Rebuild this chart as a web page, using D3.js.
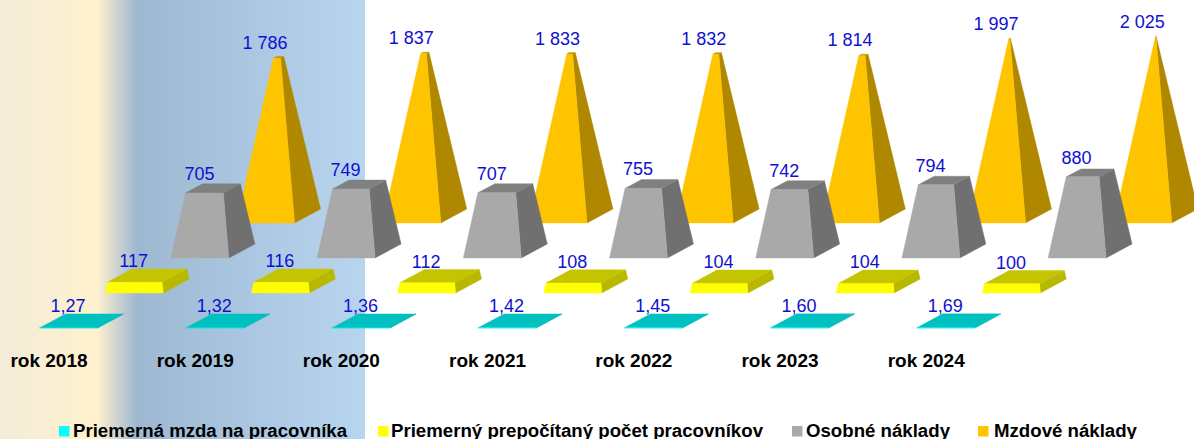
<!DOCTYPE html>
<html><head><meta charset="utf-8">
<script src="https://cdn.jsdelivr.net/npm/d3@7"></script>
<style>html,body{margin:0;padding:0;background:#fff;overflow:hidden}svg{display:block}text{font-family:"Liberation Sans",Arial,sans-serif}</style>
</head><body><div id="chart"></div>
<script>
const categories = ["rok 2018","rok 2019","rok 2020","rok 2021","rok 2022","rok 2023","rok 2024"];
const mzda   = [1.27,1.32,1.36,1.42,1.45,1.60,1.69];
const pocet  = [117,116,112,108,104,104,100];
const osobne = [705,749,707,755,742,794,880];
const mzdove = [1786,1837,1833,1832,1814,1997,2025];
const seriesNames = ["Priemerná mzda na pracovníka","Priemerný prepočítaný počet pracovníkov","Osobné náklady","Mzdové náklady"];
const seriesValues = [mzda,pocet,osobne,mzdove];
const formats = [",.2f",",d",",d",",d"];
const faceColors = [
 {front:"#00ffff",top:"#00c0c0",side:"#00a8a8",key:"#00ffff"},
 {front:"#ffff00",top:"#c4c400",side:"#b8b800",key:"#ffff00"},
 {front:"#a9a9a9",top:"#808080",side:"#707070",key:"#a9a9a9"},
 {front:"#ffc400",top:"#bf9300",side:"#b08800",key:"#ffc400"}];

const W=1194,H=439;
const svg=d3.select("#chart").append("svg").attr("width",W).attr("height",H);
const grad=svg.append("defs").append("linearGradient").attr("id","bg");
[[0,"#f3ecd8"],[.265,"#fff1ce"],[.375,"#9eb8d1"],[1,"#b8d5f0"]]
  .forEach(([o,c])=>grad.append("stop").attr("offset",o).attr("stop-color",c));
svg.append("rect").attr("width",365).attr("height",H).attr("fill","url(#bg)");

const loc=d3.formatLocale({decimal:",",thousands:"\u00a0",grouping:[3],currency:["",""]});
const x=d3.scalePoint().domain(categories).range([39.5,39.5+6*146.2]);
const idx=d3.range(4);
const sx=d3.scalePoint().domain(idx).range([0,197.1]);
const sy=d3.scalePoint().domain(idx).range([328,223]);
const h=d3.scaleLinear().domain([0,2040]).range([0,181.1]);
const halfW=29,dx=13,dy=7,maxV=h.domain()[1];
const line=d3.line();

function corners(c,s,v){
  const cx=x(c)+sx(s)+halfW+dx, cy=sy(s)-dy-h(v), t=1-v/maxV;
  return {cx,cy,
    fl:[cx-t*(halfW+dx),cy+t*dy],fr:[cx+t*(halfW-dx),cy+t*dy],
    bl:[cx-t*(halfW-dx),cy-t*dy],br:[cx+t*(halfW+dx),cy-t*dy]};
}
[3,2,1,0].forEach(s=>{
  const g=svg.append("g");
  categories.forEach((c,i)=>{
    const v=seriesValues[s][i],b=corners(c,s,0),a=corners(c,s,v),col=faceColors[s];
    const face=(pts,f)=>g.append("path").attr("d",line(pts)+"Z").attr("fill",f).attr("stroke",f).attr("stroke-width",.4);
    face([b.fr,b.br,a.br,a.fr],col.side);
    face([a.fl,a.fr,a.br,a.bl],col.top);
    face([b.fl,b.fr,a.fr,a.fl],col.front);
  });
});
idx.forEach(s=>{
  const f=loc.format(formats[s]);
  categories.forEach((c,i)=>{
    const v=seriesValues[s][i],a=corners(c,s,v);
    svg.append("text").attr("x",x(c)+sx(s)+halfW-0.5).attr("y",a.cy-8.5)
      .attr("text-anchor","middle").attr("font-size",18).attr("fill","#1010d0").text(f(v));
  });
});
categories.forEach(c=>{
  svg.append("text").attr("x",x(c)+9.5).attr("y",367).attr("text-anchor","middle")
    .attr("font-size",19).attr("font-weight","bold").attr("fill","#000").text(c);
});
const legendBox=[59,378,792,978],legendText=[73,391,806,994],legendW=[274,372,144,143];
idx.forEach(s=>{
  svg.append("rect").attr("x",legendBox[s]).attr("y",426).attr("width",10.5).attr("height",10.5).attr("fill",faceColors[s].key);
  svg.append("text").attr("x",legendText[s]).attr("y",436.5).attr("font-size",18).attr("font-weight","bold")
    .attr("textLength",legendW[s]).attr("lengthAdjust","spacingAndGlyphs").attr("fill","#000").text(seriesNames[s]);
});
</script></body></html>
